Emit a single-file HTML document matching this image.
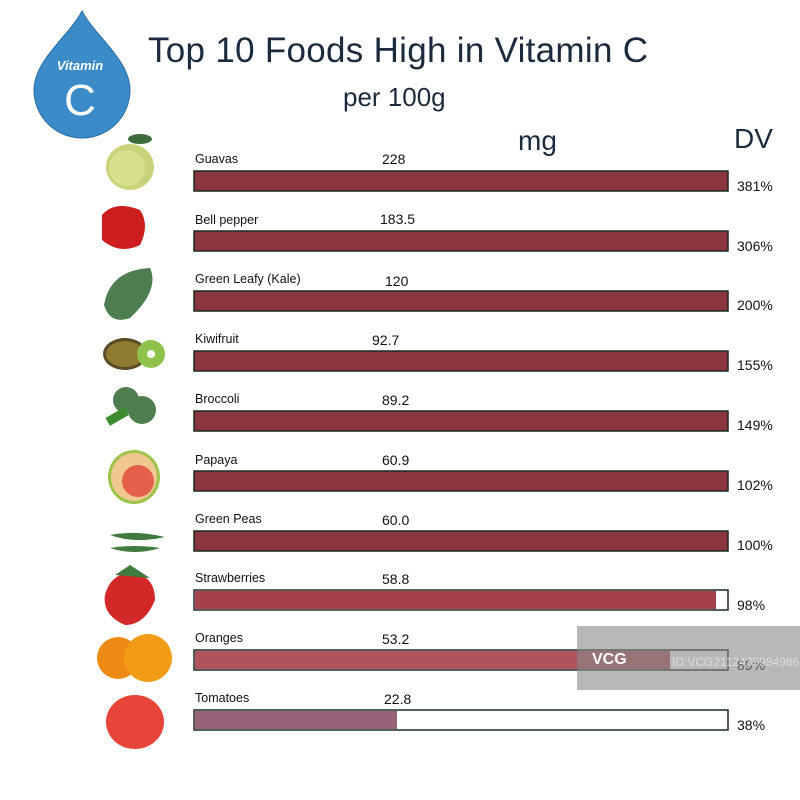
<!DOCTYPE html>
<html><head><meta charset="utf-8"><style>
body{margin:0;background:#fff;}
svg{display:block;}
text{font-family:"Liberation Sans","DejaVu Sans",sans-serif;}
</style></head><body>
<svg width="800" height="800" viewBox="0 0 800 800" xmlns="http://www.w3.org/2000/svg">
<rect width="800" height="800" fill="#fff"/>
<!-- drop -->
<path d="M82 11 C70 35 34 60 34 90 A48 48 0 0 0 130 90 C130 60 94 35 82 11Z" fill="#3a8bc8" stroke="#2a6ea5" stroke-width="1"/>
<text x="80" y="70" font-size="13" font-style="italic" font-weight="bold" fill="#fff" text-anchor="middle" font-family="Liberation Serif,serif">Vitamin</text>
<text x="80" y="115" font-size="44" fill="#fff" text-anchor="middle">C</text>
<text x="148" y="62" font-size="35" fill="#1b2a3d" textLength="500">Top 10 Foods High in Vitamin C</text>
<text x="343" y="106" font-size="26" fill="#1b2a3d">per 100g</text>
<text x="518" y="150" font-size="28" fill="#1b2a3d">mg</text>
<text x="734" y="148" font-size="28" fill="#1b2a3d">DV</text>
<!-- icons -->
<ellipse cx="130" cy="167" rx="24" ry="23" fill="#c9d47a"/><circle cx="127" cy="168" r="18" fill="#d8df8d"/><ellipse cx="140" cy="139" rx="12" ry="5" fill="#3e6b3a"/>
<path d="M102 215 Q115 200 140 210 Q150 225 140 245 Q120 255 102 240Z" fill="#cc1e1e"/>
<path d="M104 305 Q110 270 150 268 Q160 290 130 318 Q110 325 104 305Z" fill="#4e7d4f"/>
<ellipse cx="125" cy="354" rx="22" ry="16" fill="#5a4a25"/><ellipse cx="125" cy="354" rx="19" ry="13" fill="#8e7a30"/><circle cx="151" cy="354" r="14" fill="#8fc24a"/><circle cx="151" cy="354" r="4" fill="#fff"/>
<circle cx="126" cy="400" r="13" fill="#4e7d4f"/><circle cx="142" cy="410" r="14" fill="#4e7d4f"/><rect x="106" y="412" width="22" height="9" fill="#3e8a2e" transform="rotate(-30 117 416)"/>
<ellipse cx="134" cy="477" rx="26" ry="27" fill="#9cc44a"/><ellipse cx="134" cy="477" rx="23" ry="24" fill="#f1c790"/><circle cx="138" cy="481" r="16" fill="#e4604b"/>
<path d="M110 535 Q135 530 165 537 Q135 544 110 535Z" fill="#3f7a3f"/><path d="M110 548 Q135 544 160 548 Q135 556 110 548Z" fill="#3f7a3f"/>
<path d="M105 595 Q110 575 130 572 Q155 575 155 600 Q145 625 125 625 Q102 615 105 595Z" fill="#d32828"/><path d="M115 575 L130 565 L150 578Z" fill="#3f7a3f"/>
<circle cx="118" cy="658" r="21" fill="#ee8a14"/><circle cx="148" cy="658" r="24" fill="#f29b15"/>
<ellipse cx="135" cy="722" rx="29" ry="27" fill="#e8453a"/>
<!-- bars -->
<g font-size="12.5" fill="#111">
<text x="195" y="163">Guavas</text>
<text x="195" y="224">Bell pepper</text>
<text x="195" y="283">Green Leafy (Kale)</text>
<text x="195" y="343">Kiwifruit</text>
<text x="195" y="403">Broccoli</text>
<text x="195" y="464">Papaya</text>
<text x="195" y="523">Green Peas</text>
<text x="195" y="582">Strawberries</text>
<text x="195" y="642">Oranges</text>
<text x="195" y="702">Tomatoes</text>
</g>
<g font-size="14" fill="#111">
<text x="382" y="164">228</text>
<text x="380" y="224">183.5</text>
<text x="385" y="286">120</text>
<text x="372" y="345">92.7</text>
<text x="382" y="405">89.2</text>
<text x="382" y="465">60.9</text>
<text x="382" y="525">60.0</text>
<text x="382" y="584">58.8</text>
<text x="382" y="644">53.2</text>
<text x="384" y="704">22.8</text>
<text x="737" y="191">381%</text>
<text x="737" y="251">306%</text>
<text x="737" y="310">200%</text>
<text x="737" y="370">155%</text>
<text x="737" y="430">149%</text>
<text x="737" y="490">102%</text>
<text x="737" y="550">100%</text>
<text x="737" y="610">98%</text>
<text x="737" y="670">89%</text>
<text x="737" y="730">38%</text>
</g>
<g stroke="#1d2a22" stroke-width="1.5">
<rect x="194" y="171" width="534" height="20" fill="#8b3540"/>
<rect x="194" y="231" width="534" height="20" fill="#8b3540"/>
<rect x="194" y="291" width="534" height="20" fill="#8b3540"/>
<rect x="194" y="351" width="534" height="20" fill="#8b3540"/>
<rect x="194" y="411" width="534" height="20" fill="#8b3540"/>
<rect x="194" y="471" width="534" height="20" fill="#8b3540"/>
<rect x="194" y="531" width="534" height="20" fill="#8b3540"/>
<rect x="194" y="590" width="534" height="20" fill="#fff"/>
<rect x="194" y="650" width="534" height="20" fill="#fff"/>
<rect x="194" y="710" width="534" height="20" fill="#fff"/>
</g>
<rect x="195" y="591" width="521" height="18" fill="#a5414b"/>
<rect x="195" y="651" width="475" height="18" fill="#b0535c"/>
<rect x="195" y="711" width="202" height="18" fill="#966277"/>
<!-- watermark -->
<rect x="577" y="626" width="223" height="64" fill="#888" fill-opacity="0.6"/>
<text x="592" y="664" font-size="16" font-weight="bold" fill="#fff">VCG</text>
<text x="672" y="666" font-size="12" fill="#ddd">ID:VCG2112435984986</text>
</svg>
</body></html>
